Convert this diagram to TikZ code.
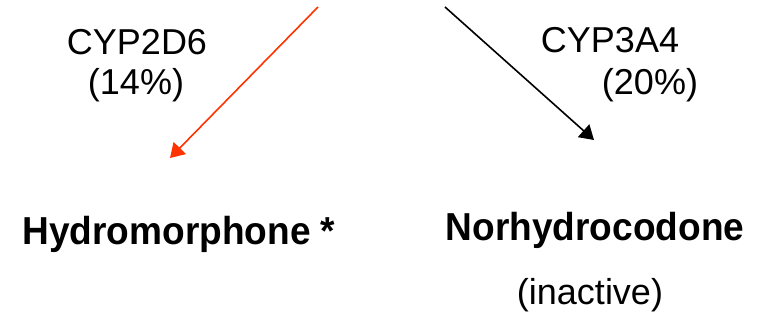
\documentclass[tikz,border=0pt]{standalone}
\usepackage{fontspec}
\setmainfont{Liberation Sans}
\newfontfamily\prodfont[FakeStretch=0.95]{Liberation Sans}
\usetikzlibrary{arrows.meta}
\definecolor{arrowred}{HTML}{FF3300}
\tikzset{
  lbl/.style={inner sep=0pt, anchor=base, font=\fontsize{36}{43}\selectfont},
  prod/.style={inner sep=0pt, anchor=base, font=\prodfont\fontsize{39}{46}\selectfont\bfseries},
  conn/.style={line width=1.6pt, -{Triangle[length=14pt,width=17pt]}}
}
\begin{document}
\begin{tikzpicture}[x=1pt,y=-1pt]
\useasboundingbox (0,0) rectangle (763,320);
\node[lbl] (cyp2d6) at (137,55) {CYP2D6};
\node[lbl] (p14) at (136,95) {(14\%)};
\node[lbl] (cyp3a4) at (610,53) {CYP3A4};
\node[lbl] (p20) at (650,95) {(20\%)};
\node[prod] (hydro) at (179,245) {Hydromorphone *};
\node[prod] (norhydro) at (595,241) {Norhydrocodone};
\node[lbl] (inact) at (590,305) {(inactive)};
\coordinate (s1) at (318,7);
\coordinate (t1) at (170,158);
\coordinate (s2) at (445,7);
\coordinate (t2) at (594,140);
\draw[conn, draw=arrowred, fill=arrowred] (s1) -- (t1);
\draw[conn, draw=black, fill=black] (s2) -- (t2);
\end{tikzpicture}
\end{document}
